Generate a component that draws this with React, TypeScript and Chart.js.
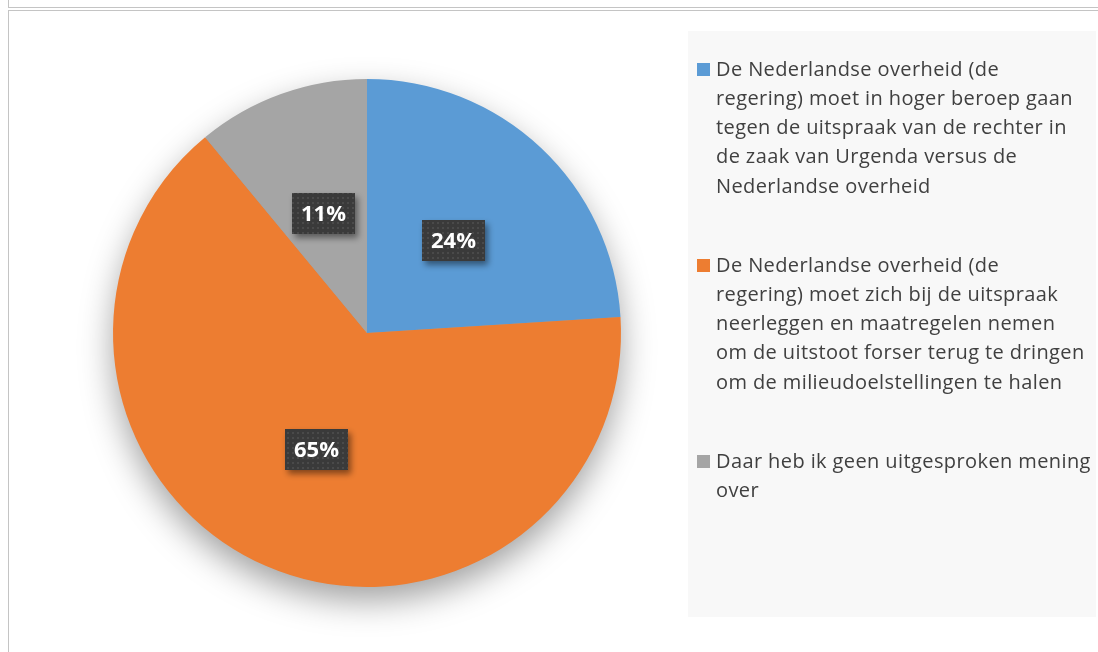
import React, { useEffect, useRef } from "react";
import { Chart, registerables } from "chart.js";

Chart.register(...registerables);

// ---- data ----
const categories: string[][] = [
  [
    "De Nederlandse overheid (de",
    "regering) moet in hoger beroep gaan",
    "tegen de uitspraak van de rechter in",
    "de zaak van Urgenda versus de",
    "Nederlandse overheid",
  ],
  [
    "De Nederlandse overheid (de",
    "regering) moet zich bij de uitspraak",
    "neerleggen en maatregelen nemen",
    "om de uitstoot forser terug te dringen",
    "om de milieudoelstellingen te halen",
  ],
  ["Daar heb ik geen uitgesproken mening", "over"],
];
const shares: number[] = [24, 65, 11];
const sliceColors: string[] = ["#5B9BD5", "#ED7D31", "#A5A5A5"];

const W = 1098;
const H = 652;

function makePattern(ctx: CanvasRenderingContext2D): CanvasPattern | string {
  const c = document.createElement("canvas");
  c.width = 5;
  c.height = 5;
  const p = c.getContext("2d");
  if (!p) return "#3c3c3c";
  p.fillStyle = "#3a3a3a";
  p.fillRect(0, 0, 5, 5);
  p.fillStyle = "#4a4a4a";
  p.fillRect(2, 2, 2, 2);
  return ctx.createPattern(c, "repeat") || "#3c3c3c";
}

const pieShadow = {
  id: "pieShadow",
  beforeDatasetsDraw(chart: any) {
    const arc = chart.getDatasetMeta(0).data[0];
    if (!arc) return;
    const { x, y, outerRadius } = arc.getProps(["x", "y", "outerRadius"], true);
    const ctx = chart.ctx;
    ctx.save();
    ctx.shadowColor = "rgba(0,0,0,0.38)";
    ctx.shadowBlur = 34;
    ctx.shadowOffsetY = 14;
    ctx.fillStyle = "#a0a0a0";
    ctx.beginPath();
    ctx.arc(x, y, outerRadius - 1, 0, Math.PI * 2);
    ctx.fill();
    ctx.restore();
  },
};

const valueLabels = {
  id: "valueLabels",
  afterDatasetsDraw(chart: any) {
    const ctx: CanvasRenderingContext2D = chart.ctx;
    const meta = chart.getDatasetMeta(0);
    const data = chart.data.datasets[0].data as number[];
    const pattern = makePattern(ctx);
    ctx.save();
    ctx.font = 'bold 22px "Open Sans"';
    meta.data.forEach((arc: any, i: number) => {
      const pos = arc.tooltipPosition(true);
      const text = data[i] + "%";
      const tw = ctx.measureText(text).width;
      const bw = tw + 18;
      const bh = 41;
      const bx = Math.round(pos.x - bw / 2);
      const by = Math.round(pos.y - bh / 2);
      ctx.save();
      ctx.shadowColor = "rgba(0,0,0,0.45)";
      ctx.shadowBlur = 6;
      ctx.shadowOffsetX = 3;
      ctx.shadowOffsetY = 4;
      ctx.fillStyle = pattern;
      ctx.fillRect(bx, by, bw, bh);
      ctx.restore();
      ctx.fillStyle = "#ffffff";
      ctx.textAlign = "center";
      ctx.textBaseline = "middle";
      ctx.fillText(text, bx + bw / 2, by + bh / 2 + 1);
    });
    ctx.restore();
  },
};

const boxLegend = {
  id: "boxLegend",
  beforeDraw(chart: any) {
    const ctx: CanvasRenderingContext2D = chart.ctx;
    ctx.save();
    ctx.fillStyle = "#f8f8f8";
    ctx.fillRect(688, 31, 408, 586);
    ctx.restore();
  },
  afterDraw(chart: any) {
    const ctx: CanvasRenderingContext2D = chart.ctx;
    const labels = chart.data.labels as string[][];
    const colors = chart.data.datasets[0].backgroundColor as string[];
    const lineH = 29.25;
    const itemStep = 196;
    ctx.save();
    ctx.font = '20px "Open Sans"';
    (ctx as any).letterSpacing = "0.4px";
    ctx.textBaseline = "middle";
    ctx.textAlign = "left";
    labels.forEach((lines, i) => {
      const y0 = 70 + i * itemStep;
      ctx.fillStyle = colors[i];
      ctx.fillRect(697, y0 - 7, 13, 13);
      ctx.fillStyle = "#404040";
      lines.forEach((ln, j) => {
        ctx.fillText(ln, 716, y0 + j * lineH);
      });
    });
    ctx.restore();
  },
};

export default function App() {
  const ref = useRef<HTMLCanvasElement | null>(null);

  useEffect(() => {
    let chart: Chart | null = null;
    let cancelled = false;
    const build = () => {
      if (cancelled || !ref.current) return;
      chart = new Chart(ref.current, {
        type: "pie",
        data: {
          labels: categories as any,
          datasets: [
            {
              data: shares,
              backgroundColor: sliceColors,
              borderWidth: 0,
              hoverOffset: 0,
            },
          ],
        },
        options: {
          animation: false,
          responsive: false,
          maintainAspectRatio: false,
          devicePixelRatio: 1,
          layout: { padding: { left: 113, right: 477, top: 79, bottom: 65 } },
          plugins: {
            legend: { display: false },
            tooltip: { enabled: false },
          },
          events: [],
        },
        plugins: [pieShadow, valueLabels, boxLegend],
      });
    };
    const fonts = (document as any).fonts;
    if (fonts && fonts.load) {
      Promise.all([
        fonts.load('20px "Open Sans"'),
        fonts.load('bold 22px "Open Sans"'),
      ])
        .catch(() => null)
        .then(build);
    } else {
      build();
    }
    return () => {
      cancelled = true;
      if (chart) chart.destroy();
    };
  }, []);

  return (
    <div
      style={{
        position: "fixed",
        left: 0,
        top: 0,
        width: W,
        height: H,
        overflow: "hidden",
        background: "#ffffff",
      }}
    >
      <canvas
        ref={ref}
        width={W}
        height={H}
        style={{ position: "absolute", left: 0, top: 0, width: W, height: H }}
      />
      <div
        style={{
          position: "absolute",
          left: 8,
          top: -20,
          width: 1200,
          height: 26,
          border: "1px solid #c4c4c4",
          pointerEvents: "none",
        }}
      />
      <div
        style={{
          position: "absolute",
          left: 8,
          top: 10,
          width: 1200,
          height: 700,
          border: "1px solid #c4c4c4",
          pointerEvents: "none",
        }}
      />
    </div>
  );
}
